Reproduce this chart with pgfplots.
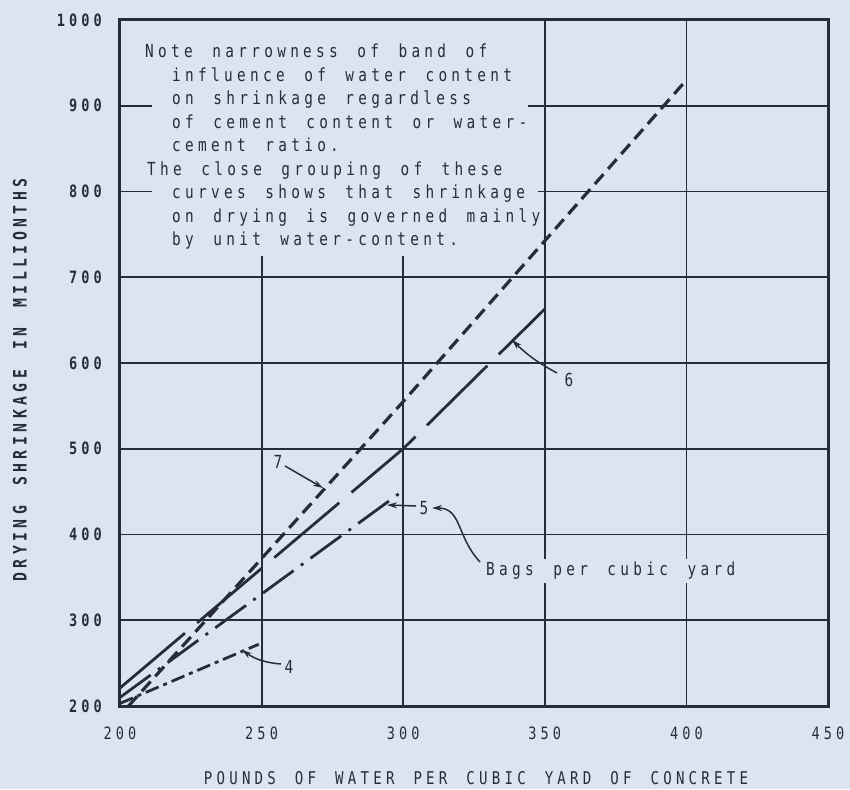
\documentclass[border=0pt]{standalone}
\usepackage{pgfplots}
\pgfplotsset{compat=1.18}
\usepackage{fontspec}
\setmainfont{DejaVu Sans Mono}
\newfontfamily\lettering{DejaVu Sans Mono}[FakeStretch=0.8,LetterSpace=24,WordSpace=1.5]
\usetikzlibrary{arrows.meta}
\definecolor{paper}{RGB}{219,229,242}
\definecolor{ink}{RGB}{40,44,58}

\begin{document}
\begin{tikzpicture}[x=1pt,y=1pt]
\fill[paper] (-120,-83) rectangle (730,706);
\begin{axis}[
  scale only axis, width=708pt, height=686pt,
  at={(0,0)}, anchor=south west,
  xmin=200, xmax=450, ymin=200, ymax=1000,
  xtick={200,250,...,450}, ytick={200,300,...,1000},
  major tick length=0pt,
  /pgf/number format/assume math mode=true,
  /pgf/number format/1000 sep={},
  axis line style={ink, line width=3pt},
  xticklabel style={font=\lettering\fontsize{17}{20}\selectfont, text=ink,
    inner sep=0pt, anchor=north, yshift=-21pt},
  yticklabel style={font=\lettering\bfseries\fontsize{17}{20}\selectfont, text=ink,
    inner sep=0pt, anchor=east, xshift=-18pt},
  clip=true,
]
% grid, open where the note stands
\draw[ink, line width=1.8pt] (axis cs:250,200) -- (axis cs:250,725);
\draw[ink, line width=1.8pt] (axis cs:300,200) -- (axis cs:300,725);
\draw[ink, line width=1.8pt] (axis cs:350,200) -- (axis cs:350,1000);
\draw[ink, line width=1.8pt] (axis cs:400,200) -- (axis cs:400,1000);
\draw[ink, line width=1.8pt] (axis cs:200,300) -- (axis cs:450,300);
\draw[ink, line width=1.8pt] (axis cs:200,400) -- (axis cs:450,400);
\draw[ink, line width=1.8pt] (axis cs:200,500) -- (axis cs:450,500);
\draw[ink, line width=1.8pt] (axis cs:200,600) -- (axis cs:450,600);
\draw[ink, line width=1.8pt] (axis cs:200,700) -- (axis cs:450,700);
\draw[ink, line width=1.8pt] (axis cs:200,800) -- (axis cs:211.3,800);
\draw[ink, line width=1.8pt] (axis cs:347.6,800) -- (axis cs:450,800);
\draw[ink, line width=1.8pt] (axis cs:200,900) -- (axis cs:211.3,900);
\draw[ink, line width=1.8pt] (axis cs:344.1,900) -- (axis cs:450,900);

% 4 bags
\addplot[ink, line width=2.8pt, dash pattern=on 14pt off 5pt on 4pt off 5pt]
  coordinates {(200,203) (249,272)};
% 5 bags
\addplot[ink, line width=2.8pt, dash pattern=on 38pt off 9pt on 3pt off 9pt]
  coordinates {(200,210) (299.5,450)};
% 6 bags
\addplot[ink, line width=2.8pt, dash pattern=on 85pt off 16pt]
  coordinates {(200,221) (300,500) (350,663)};
% 7 bags
\addplot[ink, line width=3.2pt, dash pattern=on 13pt off 7pt]
  coordinates {(203,200) (300,555) (400,930)};
\end{axis}

% note
\begin{scope}[every node/.style={anchor=base west, inner sep=0pt, text=ink,
    font=\lettering\fontsize{18}{20}\selectfont}]
\node at (25,648) {Note narrowness of band of};
\node at (52,624.5) {influence of water content};
\node at (52,601) {on shrinkage regardless};
\node at (52,577.5) {of cement content or water-};
\node at (52,554) {cement ratio.};
\node at (27,530.5) {The close grouping of these};
\node at (52,507) {curves shows that shrinkage};
\node at (52,483.5) {on drying is governed mainly};
\node at (52,460) {by unit water-content.};
\end{scope}

% curve labels
\begin{scope}[every node/.style={inner sep=0pt, text=ink,
    font=\lettering\fontsize{18}{20}\selectfont}]
\node at (158,244) {7};
\node at (449,326) {6};
\node at (304,198) {5};
\node at (169,39) {4};
\node[anchor=base west, fill=paper, inner sep=3pt] at (363,130) {Bags per cubic yard};
\end{scope}
\begin{scope}[ink, line width=1.5pt, arrows={-Stealth[length=10pt,width=6pt]}]
\draw (165,240) -- (203,218);
\draw (437,333) to[bend left=8] (392,366);
\draw (296,200) -- (267,201);
\draw (161,42) to[bend left=15] (122,56);
\draw (360,144) .. controls (336,170) and (342,198) .. (312,198);
\end{scope}

% axis titles
\node[text=ink, font=\lettering\fontsize{17.6}{20}\selectfont] at (356,-72)
  {POUNDS OF WATER PER CUBIC YARD OF CONCRETE};
\node[rotate=90, text=ink, font=\lettering\bfseries\fontsize{18.5}{20}\selectfont] at (-100,326)
  {DRYING SHRINKAGE IN MILLIONTHS};
\end{tikzpicture}
\end{document}
